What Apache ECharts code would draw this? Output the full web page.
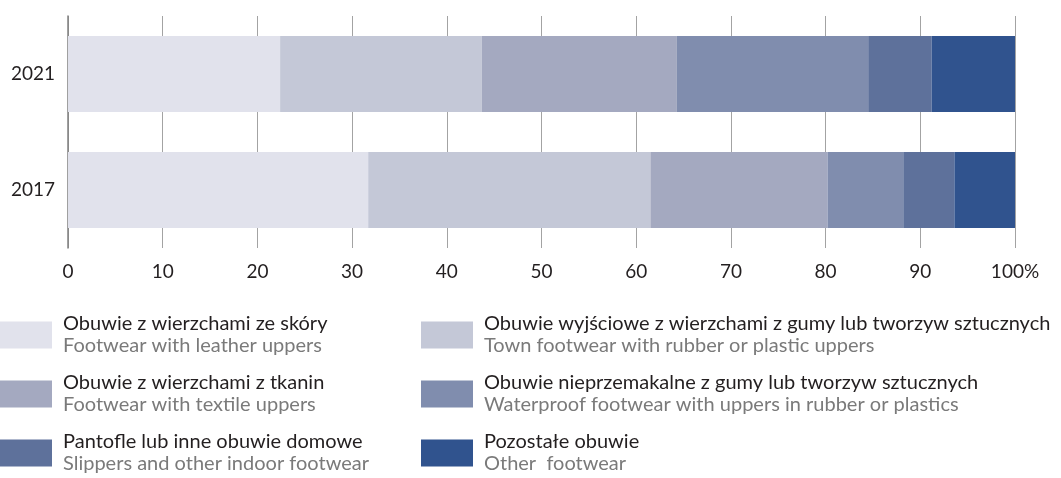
<!DOCTYPE html>
<html>
<head>
<meta charset="utf-8">
<script src="https://cdn.jsdelivr.net/npm/echarts@6/dist/echarts.min.js"></script>
<style>
  html, body { margin: 0; padding: 0; background: #fff; }
  #chart { width: 1061px; height: 478px; }
</style>
</head>
<body>
<div id="chart"></div>
<script>
// Footwear structure by type, percent of total
const years = ['2017', '2021'];
const seriesNamesPl = [
  'Obuwie z wierzchami ze skóry',
  'Obuwie wyjściowe z wierzchami z gumy lub tworzyw sztucznych',
  'Obuwie z wierzchami z tkanin',
  'Obuwie nieprzemakalne z gumy lub tworzyw sztucznych',
  'Pantofle lub inne obuwie domowe',
  'Pozostałe obuwie'
];
const seriesNamesEn = [
  'Footwear with leather uppers',
  'Town footwear with rubber or plastic uppers',
  'Footwear with textile uppers',
  'Waterproof footwear with uppers in rubber or plastics',
  'Slippers and other indoor footwear',
  'Other  footwear'
];
// values per year: [2017, 2021]
const leather = [31.7, 22.4];
const town = [29.8, 21.3];
const textile = [18.7, 20.6];
const waterproof = [8.0, 20.2];
const slippers = [5.4, 6.7];
const other = [6.4, 8.8];
const xTicks = [0, 10, 20, 30, 40, 50, 60, 70, 80, 90, 100];

const colors = ['#e1e2ec', '#c4c8d7', '#a4a9c0', '#808dae', '#5e719b', '#30538e'];
const valueSets = [leather, town, textile, waterproof, slippers, other];

const FONT = 'Lato';

const series = valueSets.map((vals, i) => ({
  name: seriesNamesPl[i],
  type: 'bar',
  stack: 'total',
  barWidth: 76,
  data: vals,
  itemStyle: { color: colors[i] },
  emphasis: { disabled: true }
}));

function legendFormatter(name) {
  const i = seriesNamesPl.indexOf(name);
  return '{pl|' + name + '}\n{en|' + seriesNamesEn[i] + '}';
}
const legendRich = {
  pl: { fontFamily: FONT, fontSize: 20, color: '#231f20', lineHeight: 22 },
  en: { fontFamily: FONT, fontSize: 20, color: '#7a7a7a', lineHeight: 22 }
};

function makeLegend(names, left) {
  return {
    data: names,
    orient: 'vertical',
    left: left,
    top: 314,
    padding: 0,
    icon: 'rect',
    itemWidth: 52,
    itemHeight: 27,
    itemGap: 17,
    selectedMode: false,
    formatter: legendFormatter,
    textStyle: { rich: legendRich, padding: [0, 0, 0, 6] }
  };
}

const chart = echarts.init(document.getElementById('chart'), null, { renderer: 'canvas' });
chart.setOption({
  animation: false,
  color: colors,
  grid: { left: 68, right: 46, top: 16, bottom: 230 },
  xAxis: {
    type: 'value',
    min: xTicks[0],
    max: xTicks[xTicks.length - 1],
    interval: 10,
    axisLine: { show: false },
    axisTick: { show: false },
    splitLine: { show: true, lineStyle: { color: '#a3a3a3', width: 1 } },
    axisLabel: {
      margin: 14,
      fontFamily: FONT,
      fontSize: 19,
      color: '#231f20',
      formatter: v => (v === 100 ? '100%' : String(v))
    }
  },
  yAxis: {
    type: 'category',
    data: years,
    axisLine: { show: true, lineStyle: { color: '#808080', width: 1.5 } },
    axisTick: { show: false },
    axisLabel: { margin: 13, fontFamily: FONT, fontSize: 19, color: '#231f20' }
  },
  legend: [
    makeLegend([seriesNamesPl[0], seriesNamesPl[2], seriesNamesPl[4]], 0),
    makeLegend([seriesNamesPl[1], seriesNamesPl[3], seriesNamesPl[5]], 421)
  ],
  series: series
});
</script>
</body>
</html>
